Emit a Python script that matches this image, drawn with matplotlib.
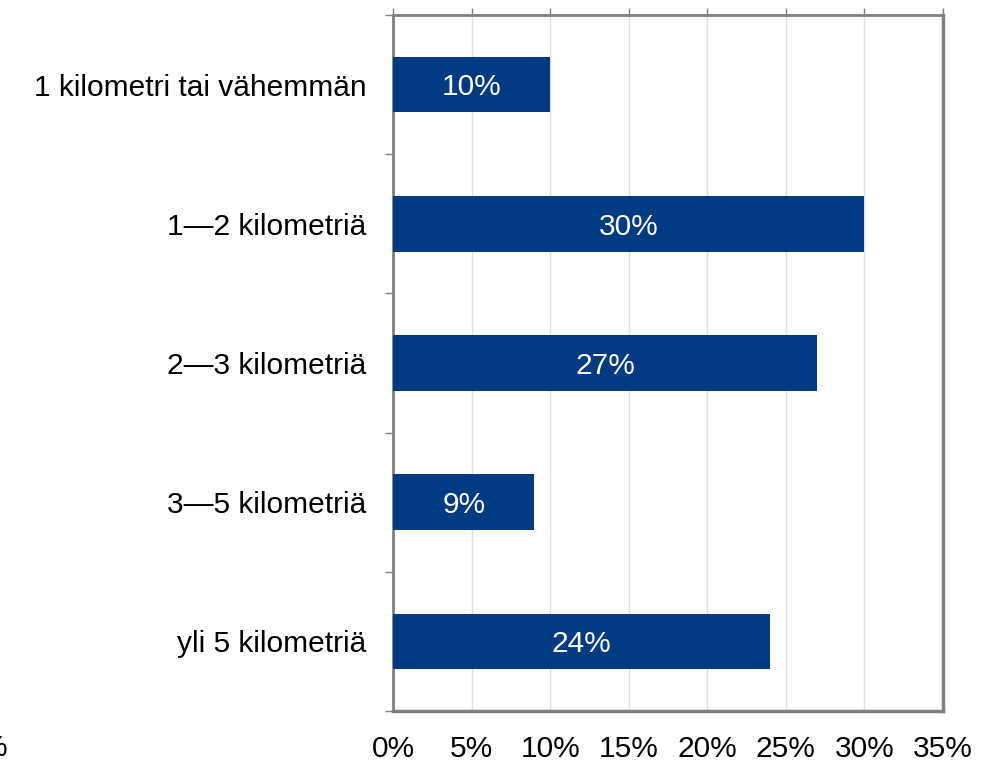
import matplotlib
matplotlib.use("Agg")
import matplotlib.pyplot as plt
import numpy as np

categories = ["1 kilometri tai vähemmän", "1—2 kilometriä", "2—3 kilometriä", "3—5 kilometriä", "yli 5 kilometriä"]
values = [10, 30, 27, 9, 24]
xticks = [0, 5, 10, 15, 20, 25, 30, 35]
xticklabels = ["0%", "5%", "10%", "15%", "20%", "25%", "30%", "35%"]

plt.rcParams['font.family'] = ['Liberation Sans', 'DejaVu Sans']
FS = 21.5

fig = plt.figure(figsize=(10.06, 7.63), dpi=100)
ax = fig.add_axes([393/1006, 1-711/763, (943-393)/1006, (711-15)/763])

y = np.arange(len(categories))
bars = ax.barh(y, values, height=0.4, color="#003A80", zorder=3)
for yi, v in zip(y, values):
    ax.text(v/2, yi + 0.02, f"{v}%", ha="center", va="center", color="white", fontsize=FS, zorder=4)

ax.set_xlim(0, 35)
ax.set_ylim(len(categories)-0.5, -0.5)
ax.set_xticks(xticks)
ax.set_xticklabels(xticklabels, fontsize=FS)
ax.set_yticks(y)
ax.set_yticklabels(categories, fontsize=FS)
ax.tick_params(axis='y', which='major', length=0, pad=19)
ax.set_yticks(np.arange(-0.5, len(categories)), minor=True)
ax.tick_params(axis='y', which='minor', length=6, width=1, color="#808080", direction='out')
ax.tick_params(axis='x', which='major', bottom=False, top=True, labelbottom=True, labeltop=False,
               length=5, width=1, color="#808080", direction='out', pad=12)
ax.grid(axis='x', color="#e0e0e0", linewidth=1, zorder=0)
for name, s in ax.spines.items():
    s.set_color("#808080")
    s.set_linewidth(2.5 if name in ("right", "bottom") else 2)

fig.text(8/1006, 1-748/763, "%", ha="right", va="center", fontsize=FS)

fig.savefig("out.png", dpi=100)
